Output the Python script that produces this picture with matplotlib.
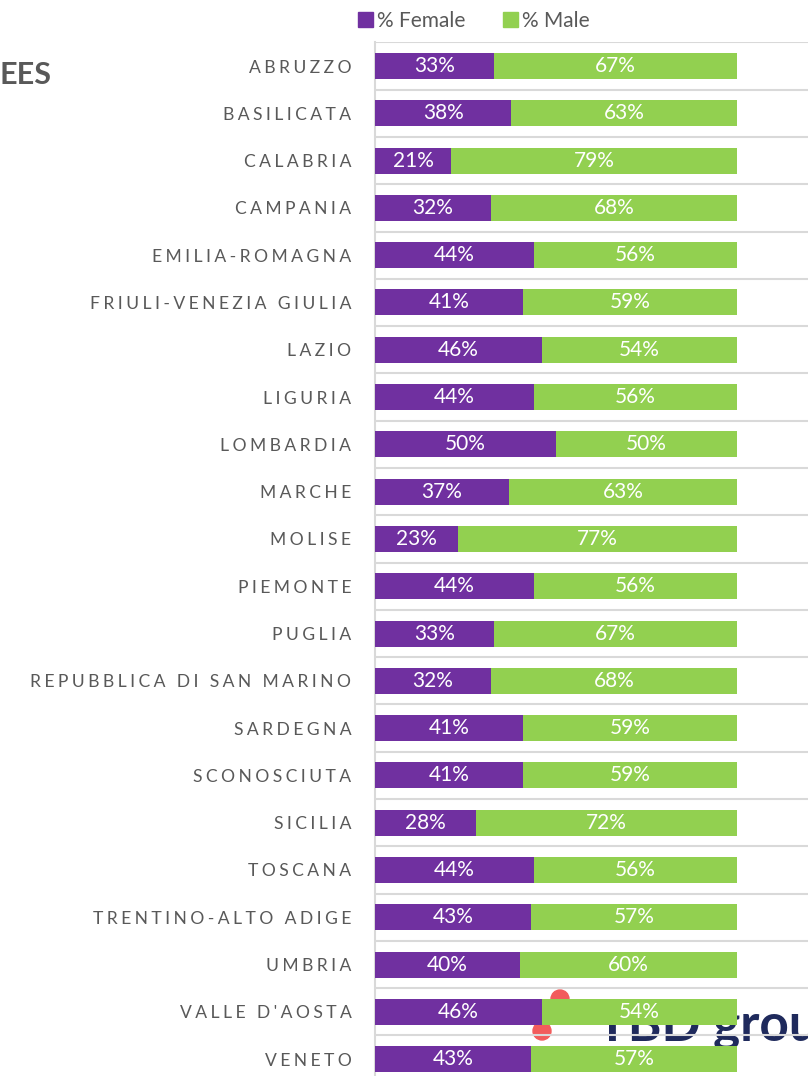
import matplotlib
matplotlib.use('Agg')
import matplotlib.pyplot as plt
from matplotlib.patches import Ellipse, Patch
import numpy as np

# data
regions = ['ABRUZZO', 'BASILICATA', 'CALABRIA', 'CAMPANIA', 'EMILIA-ROMAGNA',
           'FRIULI-VENEZIA GIULIA', 'LAZIO', 'LIGURIA', 'LOMBARDIA', 'MARCHE',
           'MOLISE', 'PIEMONTE', 'PUGLIA', 'REPUBBLICA DI SAN MARINO', 'SARDEGNA',
           'SCONOSCIUTA', 'SICILIA', 'TOSCANA', 'TRENTINO-ALTO ADIGE', 'UMBRIA',
           "VALLE D'AOSTA", 'VENETO']
female = [33, 38, 21, 32, 44, 41, 46, 44, 50, 37, 23, 44, 33, 32, 41, 41, 28, 44, 43, 40, 46, 43]
male = [67, 63, 79, 68, 56, 59, 54, 56, 50, 63, 77, 56, 67, 68, 59, 59, 72, 56, 57, 60, 54, 57]

PURPLE = '#7030A0'
GREEN = '#92D050'
GREY = '#595959'
W, H = 808, 1076

plt.rcParams['font.family'] = ['Lato', 'DejaVu Sans']

fig = plt.figure(figsize=(W / 100, H / 100), dpi=100)
fig.patch.set_facecolor('white')

# axes placement in pixels
left_px, right_px = 375, W
top_px = 42.4
step = 47.29
n = len(regions)
bottom_px = top_px + step * n
ax = fig.add_axes([left_px / W, 1 - bottom_px / H, (right_px - left_px) / W, (bottom_px - top_px) / H])
ax.set_facecolor('none')

# 100% stacked: shares of each row total
fem = np.array(female, dtype=float)
mal = np.array(male, dtype=float)
tot = fem + mal
fem_w = fem / tot * 100
mal_w = mal / tot * 100

y = np.arange(n)
ax.barh(y, fem_w, height=0.55, color=PURPLE, zorder=3)
ax.barh(y, mal_w, left=fem_w, height=0.55, color=GREEN, zorder=3)

for i in range(n):
    ax.text(fem_w[i] / 2, i, '{0}%'.format(female[i]), ha='center', va='center',
            color='white', fontsize=15, zorder=4)
    ax.text(fem_w[i] + mal_w[i] / 2, i, '{0}%'.format(male[i]), ha='center', va='center',
            color='white', fontsize=15, zorder=4)

# x scale: 0 at 375px, 100 at 737px
ax.set_xlim(0, (right_px - left_px) / 3.62)
ax.set_ylim(n - 0.5, -0.5)

# gridlines between categories
for b in np.arange(-0.5, n, 1.0):
    ax.axhline(b, color='#D9D9D9', lw=1.5, zorder=1)

ax.set_yticks(y)
ax.set_yticklabels(['\u2009\u200a'.join(r) for r in regions], fontsize=12.6, color=GREY)
ax.tick_params(axis='y', length=0, pad=17)
ax.set_xticks([])
for s in ['top', 'right', 'bottom']:
    ax.spines[s].set_visible(False)
ax.spines['left'].set_color('#D9D9D9')
ax.spines['left'].set_linewidth(1.5)

# legend
handles = [Patch(color=PURPLE, label='% Female'), Patch(color=GREEN, label='% Male')]
fig.legend(handles=handles, loc='center', bbox_to_anchor=(474 / W, 1 - 21 / H),
           ncol=2, frameon=False, fontsize=15, handlelength=0.7, handleheight=0.7,
           handletextpad=0.2, columnspacing=1.8, labelcolor=GREY)

# cropped title fragment
fig.text(0, 1 - 75 / H, 'EES', ha='left', va='center', fontsize=22, fontweight='bold', color=GREY)

# logo behind the chart
for cx, cy in [(542, 1031), (560, 999)]:
    fig.add_artist(Ellipse((cx / W, 1 - cy / H), 18 / W, 18 / H, transform=fig.transFigure,
                           color='#F25C5C', zorder=-2))
fig.text(597 / W, 1 - 1041 / H, 'TBD group', ha='left', va='baseline', fontsize=37,
         fontweight='bold', color='#1F2A5C', zorder=-2)

fig.savefig('out.png', dpi=100)
